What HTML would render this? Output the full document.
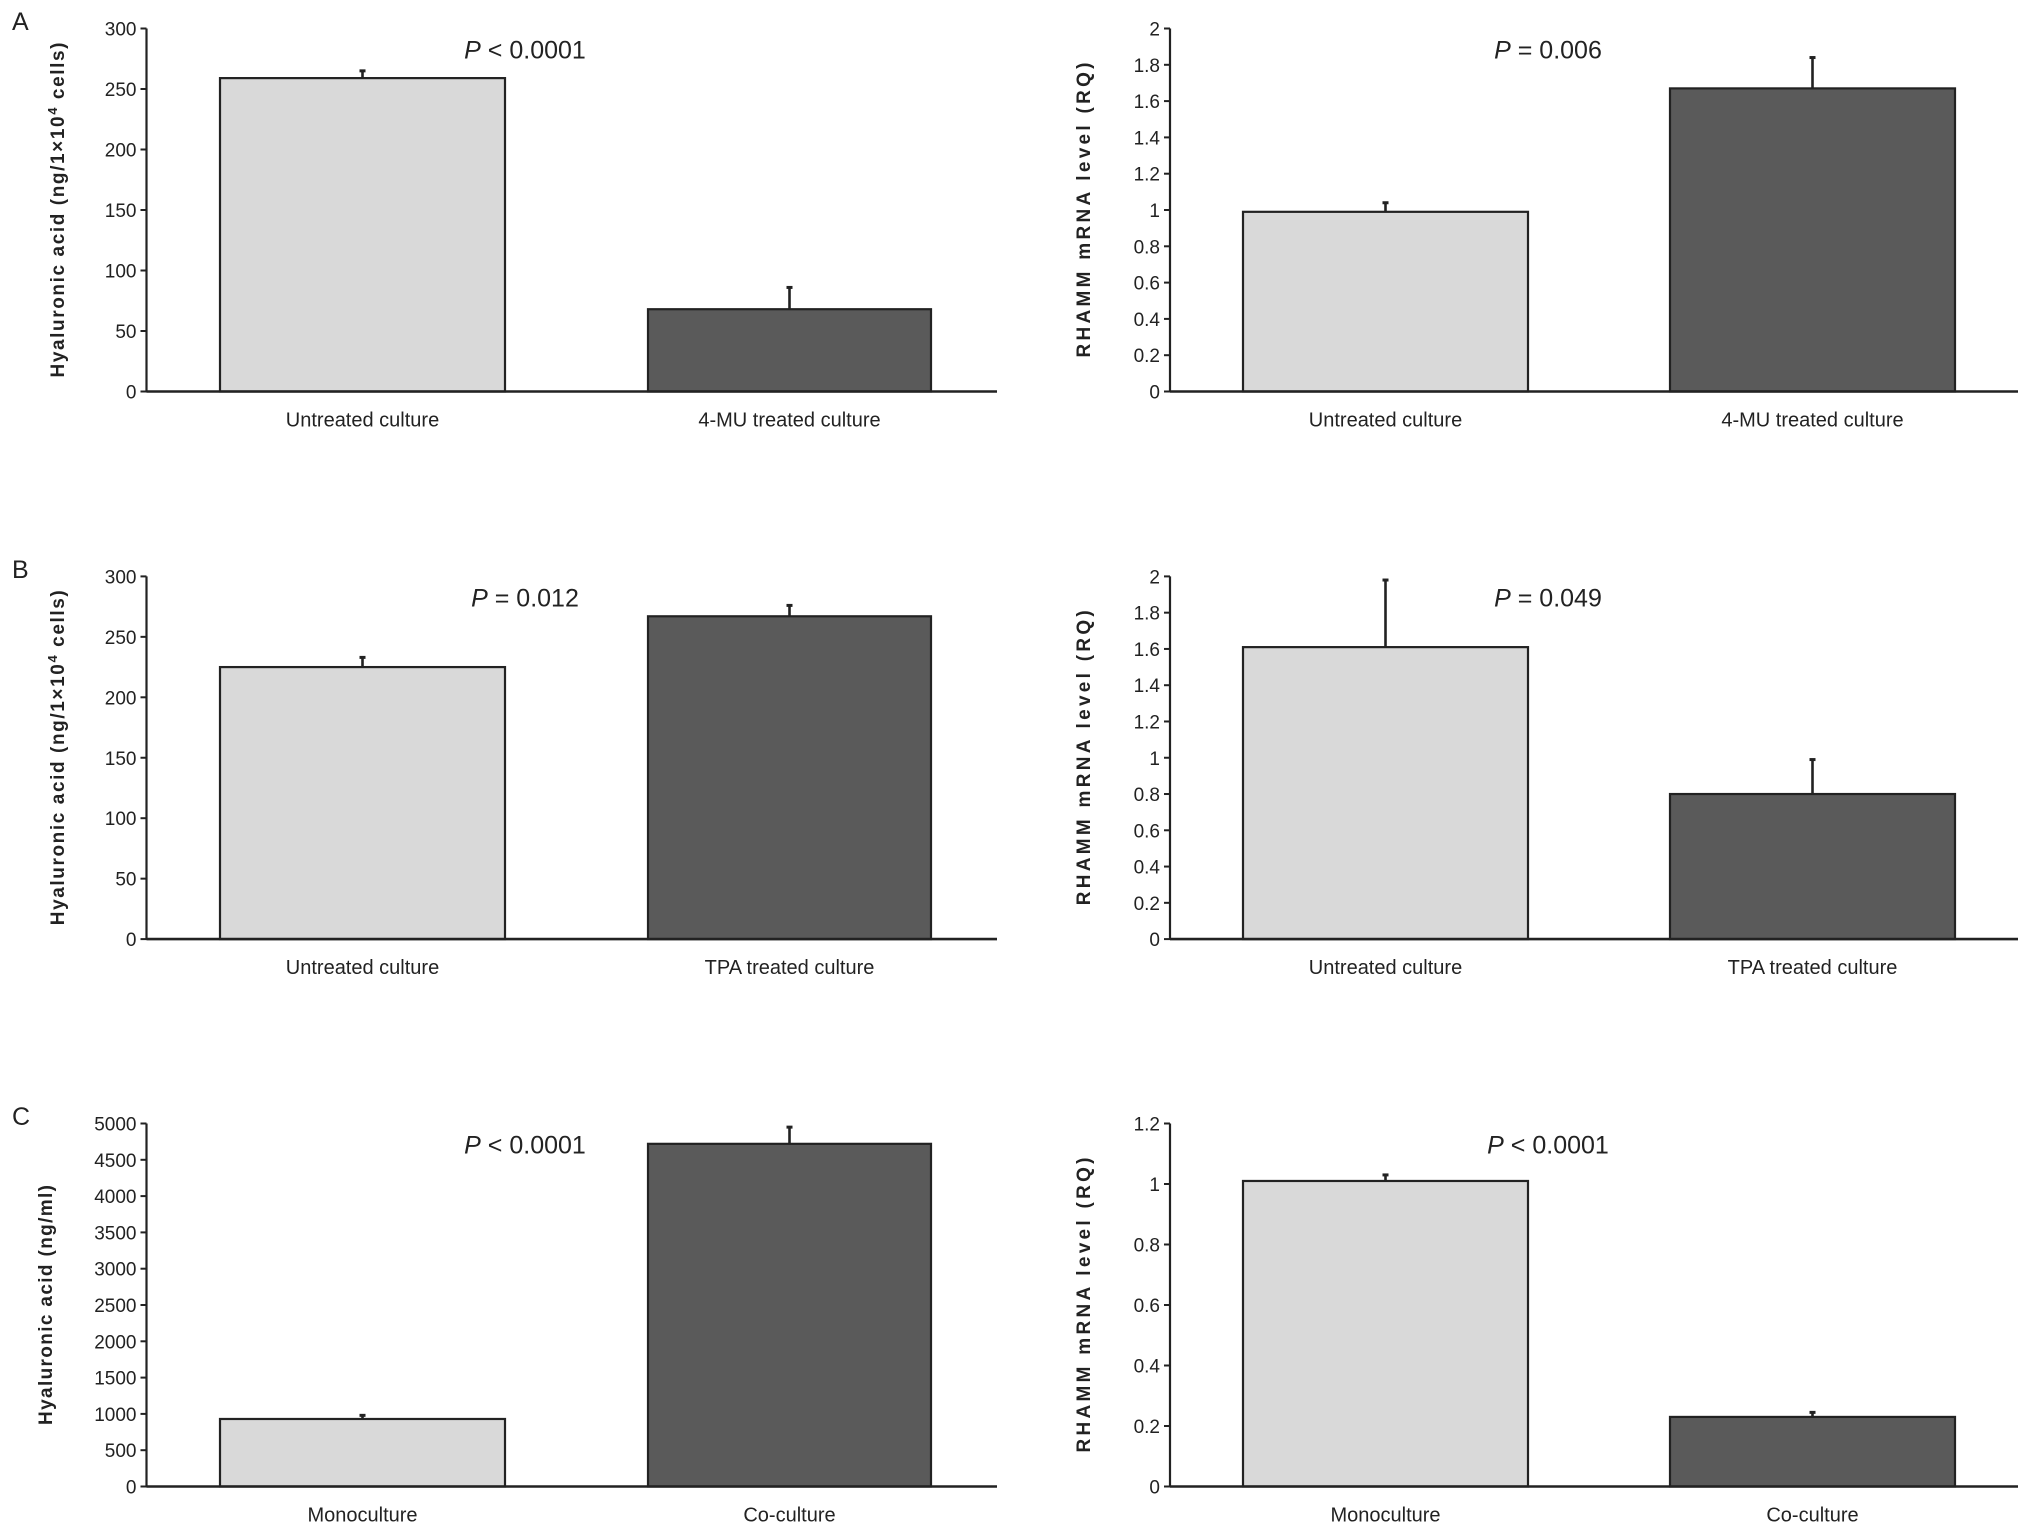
<!DOCTYPE html>
<html><head><meta charset="utf-8"><style>
html,body{margin:0;padding:0;background:#fff}
svg{display:block}
text{font-family:"Liberation Sans",sans-serif;fill:#222}
</style></head><body>
<svg id="fig" width="2031" height="1535" viewBox="0 0 2031 1535" xmlns="http://www.w3.org/2000/svg"></svg>
<script>
// Data arrays
const panelLetters = ["A","B","C"];
const catsRow = [["Untreated culture","4-MU treated culture"],["Untreated culture","TPA treated culture"],["Monoculture","Co-culture"]];
const haValues = [259, 225, 930, 68, 267, 4720];
const haErrors = [6, 8, 50, 18, 9, 230];
const rhValues = [0.99, 1.61, 1.01, 1.67, 0.80, 0.23];
const rhErrors = [0.05, 0.37, 0.02, 0.17, 0.19, 0.015];
const haTicks = [[0,50,100,150,200,250,300],[0,50,100,150,200,250,300],[0,500,1000,1500,2000,2500,3000,3500,4000,4500,5000]];
const rhTicks = [[0,0.2,0.4,0.6,0.8,1,1.2,1.4,1.6,1.8,2],[0,0.2,0.4,0.6,0.8,1,1.2,1.4,1.6,1.8,2],[0,0.2,0.4,0.6,0.8,1,1.2]];
const haPLabels = ["< 0.0001","= 0.012","< 0.0001"];
const rhPLabels = ["= 0.006","= 0.049","< 0.0001"];

const NS="http://www.w3.org/2000/svg";
const svg=document.getElementById('fig');
function mk(tag,attrs,parent){const e=document.createElementNS(NS,tag);for(const k in attrs)e.setAttribute(k,attrs[k]);(parent||svg).appendChild(e);return e;}

const rowTop=[28.5,576.4,1123.5], rowZero=[391.5,939.1,1486.5];
const panels=[
 {ax:146.5, end:997, bars:[[220,505],[648,931]], pX:525, title:["Hyaluronic acid (ng/1\u00d710","4"," cells)"], titleX:64, len:335},
 {ax:1170, end:2018, bars:[[1243,1528],[1670,1955]], pX:1548, title:["RHAMM mRNA level (RQ)"], titleX:1090, len:295}
];

for(let r=0;r<3;r++){
  const L=mk('text',{x:12,y:rowTop[r]-16,'font-size':25,'dominant-baseline':'hanging'});
  
  
  L.textContent=panelLetters[r];
  for(let p=0;p<2;p++){
    const P=panels[p];
    const ticks = p===0?haTicks[r]:rhTicks[r];
    const vals = p===0?[haValues[r],haValues[r+3]]:[rhValues[r],rhValues[r+3]];
    const errs = p===0?[haErrors[r],haErrors[r+3]]:[rhErrors[r],rhErrors[r+3]];
    const maxT=ticks[ticks.length-1];
    const y=v=>rowZero[r]-(v/maxT)*(rowZero[r]-rowTop[r]);
    const g=mk('g',{});
    
    
    for(let i=0;i<2;i++){
      const [x0,x1]=P.bars[i];
      const b=mk('rect',{x:x0,y:y(vals[i]),width:x1-x0,height:rowZero[r]-y(vals[i]),fill:i===0?'#d9d9d9':'#5a5a5a',stroke:'#222','stroke-width':2.2},g);
      
      
      const cx=(x0+x1)/2;
      const e=mk('line',{x1:cx,x2:cx,y1:y(vals[i]),y2:y(vals[i]+errs[i]),stroke:'#222','stroke-width':2.6},g);
      
      
      const c=mk('line',{x1:cx-3,x2:cx+3,y1:y(vals[i]+errs[i]),y2:y(vals[i]+errs[i]),stroke:'#222','stroke-width':3},g);
      
      
      const t=mk('text',{x:cx,y:rowZero[r]+35,'font-size':20,'text-anchor':'middle',fill:'#333'},g);
      
      
      t.textContent=catsRow[r][i];
    }
    const ya=mk('line',{x1:P.ax,x2:P.ax,y1:rowTop[r],y2:rowZero[r],stroke:'#222','stroke-width':2.2},g);
    
    
    const xa=mk('line',{x1:P.ax,x2:P.end,y1:rowZero[r],y2:rowZero[r],stroke:'#222','stroke-width':2.6},g);
    
    
    for(const tv of ticks){
      const tl=mk('line',{x1:P.ax-6,x2:P.ax,y1:y(tv),y2:y(tv),stroke:'#222','stroke-width':2},g);
      
      
      const tt=mk('text',{x:P.ax-10,y:y(tv)+7,'font-size':19,'text-anchor':'end'},g);
      
      
      tt.textContent=String(tv);
    }
    const mid=(rowTop[r]+rowZero[r])/2;
    const tx = (p===0 && r===2)? P.titleX-12 : P.titleX;
    const len = (p===0 && r===2)? 240 : P.len;
    const at=mk('text',{x:0,y:0,'font-size':19,'text-anchor':'middle',fill:'#555','font-weight':'bold',textLength:len,lengthAdjust:'spacing',transform:`translate(${tx},${mid}) rotate(-90)`},g);
    
    
    if(p===0){
      if(r===2){at.textContent='Hyaluronic acid (ng/ml)';}
      else{
        at.appendChild(document.createTextNode(P.title[0]));
        const s=mk('tspan',{'font-size':13,dy:-7},at);s.textContent=P.title[1];
        const s2=mk('tspan',{dy:7},at);s2.textContent=P.title[2];
      }
    } else at.textContent=P.title[0];
    const pt=mk('text',{x:P.pX,y:rowTop[r]+30,'font-size':25,'text-anchor':'middle'},g);
    
    
    const it=mk('tspan',{'font-style':'italic'},pt);it.textContent='P';
    pt.appendChild(document.createTextNode(' '+(p===0?haPLabels[r]:rhPLabels[r])));
  }
}
</script>
</body></html>
